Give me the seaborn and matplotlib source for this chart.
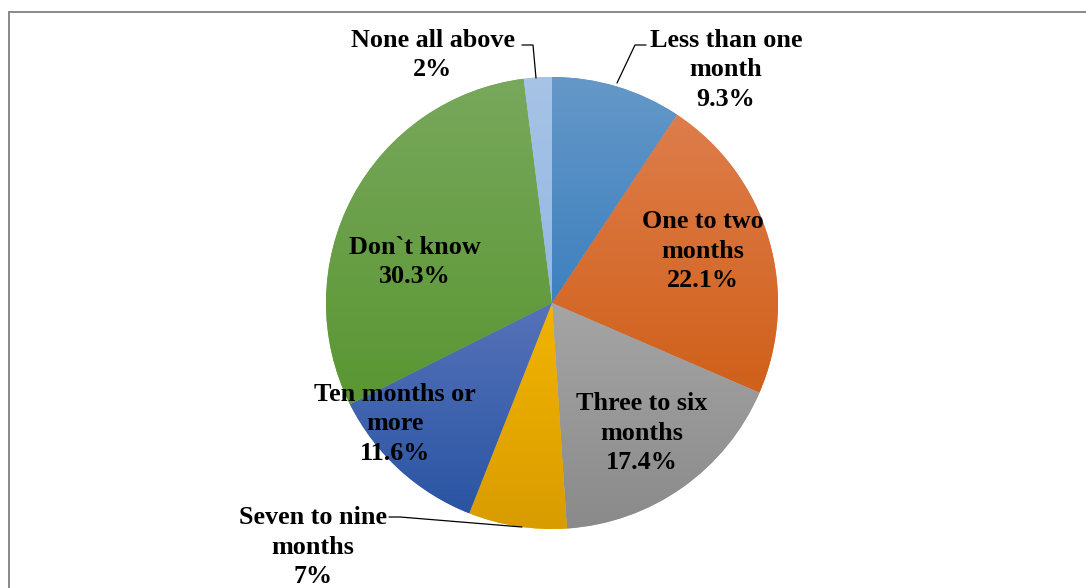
import numpy as np
import matplotlib
matplotlib.use("Agg")
import matplotlib.pyplot as plt
import matplotlib.colors as mcolors
from matplotlib.lines import Line2D
import seaborn as sns

# ---- data ----
categories = ["Less than one\nmonth", "One to two\nmonths", "Three to six\nmonths",
              "Seven to nine\nmonths", "Ten months or\nmore", "Don`t know", "None all above"]
values = [9.3, 22.1, 17.4, 7, 11.6, 30.3, 2]
value_labels = ["9.3%", "22.1%", "17.4%", "7%", "11.6%", "30.3%", "2%"]

# ---- style ----
top_colors = ["#6598C8", "#DE7D4B", "#A5A5A5", "#F2B400", "#5672B9", "#78A85C", "#A7C3E6"]
bottom_colors = ["#3D80BF", "#D0601A", "#8A8A8A", "#D99C00", "#2A55A3", "#5A9632", "#94B8E2"]

sns.set_theme(style="white")
plt.rcParams["font.family"] = ["Liberation Serif", "DejaVu Serif"]

W, H = 1086, 588
fig = plt.figure(figsize=(W / 100, H / 100), dpi=100)
ax = fig.add_axes([0, 0, 1, 1])
ax.set_xlim(0, W)
ax.set_ylim(0, H)
ax.set_aspect("equal")
ax.axis("off")

cx, cy, r = 552, H - 303, 226
wedges, _ = ax.pie(values, startangle=90, counterclock=False, center=(cx, cy),
                   radius=r, colors=top_colors, wedgeprops=dict(linewidth=0))
ax.set_xlim(0, W)
ax.set_ylim(0, H)

# vertical gradient fill clipped to each wedge
for w, ct, cb in zip(wedges, top_colors, bottom_colors):
    verts = w.get_path().vertices
    x0, y0 = verts.min(axis=0)
    x1, y1 = verts.max(axis=0)
    c0 = np.array(mcolors.to_rgb(ct))
    c1 = np.array(mcolors.to_rgb(cb))
    t = np.linspace(0, 1, 256)[:, None]
    grad = (c0[None, :] * (1 - t) + c1[None, :] * t)[:, None, :]
    im = ax.imshow(grad, extent=(x0, x1, y0, y1), origin="upper", aspect="auto",
                   interpolation="bilinear", zorder=w.get_zorder() + 0.5)
    im.set_clip_path(w)

ax.set_xlim(0, W)
ax.set_ylim(0, H)

# ---- labels (pixel positions of text centers) ----
label_pos = [(726, 70), (703, 251), (642, 433), (313, 547), (395, 424), (415, 262), (433, 55)]
fs = 18.8
for cat, vl, (lx, ly) in zip(categories, value_labels, label_pos):
    ax.text(lx, H - ly, cat + "\n" + vl, ha="center", va="center", fontsize=fs,
            fontweight="bold", color="black", linespacing=1.38, zorder=10)

# leader lines
ax.plot([646, 635, 617], [H - 45, H - 45, H - 83], color="black", lw=0.9, zorder=9)
ax.plot([522, 533, 536], [H - 45, H - 45, H - 78], color="black", lw=0.9, zorder=9)
ax.plot([389, 400, 522], [H - 517, H - 517, H - 527], color="black", lw=0.9, zorder=9)

# chart border (top and left visible)
fig.add_artist(Line2D([8.5 / W, 1.0], [1 - 11.5 / H, 1 - 11.5 / H],
                      transform=fig.transFigure, color="#808080", lw=1.3))
fig.add_artist(Line2D([8.5 / W, 8.5 / W], [0, 1 - 11.5 / H],
                      transform=fig.transFigure, color="#808080", lw=1.3))

fig.savefig("out.png", dpi=100)
